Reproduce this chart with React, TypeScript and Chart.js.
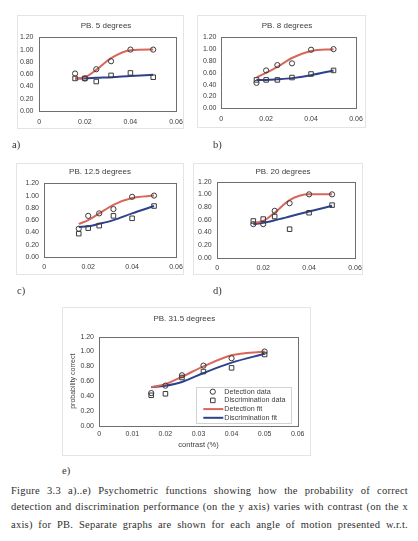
import { useEffect, useRef } from "react";
import { Chart, registerables } from "chart.js";
import type { ChartConfiguration, Plugin } from "chart.js";

Chart.register(...registerables);

// Contrast levels shown at every angle
const contrast = [0.0157, 0.02, 0.025, 0.0315, 0.04, 0.05];

// PB, 5 degrees
const det5 = [0.61, 0.53, 0.68, 0.81, 1.0, 1.0];
const dis5 = [0.53, 0.53, 0.48, 0.58, 0.62, 0.55];
const detFit5 = [0.53, 0.55, 0.67, 0.86, 0.99, 1.0];
const disFit5 = [0.53, 0.53, 0.54, 0.55, 0.57, 0.59];

// PB, 8 degrees
const det8 = [0.43, 0.64, 0.73, 0.76, 0.99, 1.0];
const dis8 = [0.48, 0.48, 0.48, 0.52, 0.58, 0.64];
const detFit8 = [0.52, 0.6, 0.7, 0.85, 0.97, 1.0];
const disFit8 = [0.48, 0.48, 0.49, 0.51, 0.56, 0.64];

// PB, 12.5 degrees
const det125 = [0.46, 0.67, 0.71, 0.78, 0.98, 1.0];
const dis125 = [0.38, 0.47, 0.51, 0.67, 0.63, 0.83];
const detFit125 = [0.54, 0.6, 0.71, 0.85, 0.96, 1.0];
const disFit125 = [0.49, 0.5, 0.54, 0.6, 0.71, 0.83];

// PB, 20 degrees
const det20 = [0.53, 0.53, 0.74, 0.86, 1.0, 1.0];
const dis20 = [0.58, 0.61, 0.65, 0.45, 0.71, 0.83];
const detFit20 = [0.55, 0.58, 0.71, 0.91, 1.0, 1.0];
const disFit20 = [0.53, 0.55, 0.59, 0.65, 0.73, 0.82];

// PB, 31.5 degrees
const det315 = [0.44, 0.54, 0.68, 0.81, 0.91, 1.0];
const dis315 = [0.41, 0.43, 0.65, 0.73, 0.78, 0.96];
const detFit315 = [0.52, 0.56, 0.66, 0.8, 0.95, 1.0];
const disFit315 = [0.52, 0.54, 0.59, 0.71, 0.85, 0.97];

const seriesNames = ["Detection data", "Discrimination data", "Detection fit", "Discrimination fit"];

const captionLines = [
  "Figure 3.3 a)..e) Psychometric functions showing how the probability of correct",
  "detection and discrimination performance (on the y axis) varies with contrast (on the x",
  "axis) for PB. Separate graphs are shown for each angle of motion presented w.r.t.",
];

const RED = "#d8665b";
const BLUE = "#2d418e";
const MARK = "#3a3a3a";
const TEXT = "#3c3c3c";
const SANS = '"Liberation Sans", Arial, sans-serif';
const SERIF = '"Liberation Serif", "Times New Roman", serif';

type Rect = { x: number; y: number; w: number; h: number };
type Edges = { l: number; t: number; r: number; b: number };

interface PanelSpec {
  title: string;
  tag: string;
  tagAt: [number, number];
  frame: Rect;
  plot: Edges;
  titleAt: [number, number];
  xLabelY: number;
  yLabelRight: number;
  xMax: number;
  xStep: number;
  det: number[];
  dis: number[];
  detFit: number[];
  disFit: number[];
  axisTitles?: { x: string; y: string; xTitleY: number; yTitleX: number };
  legend?: boolean;
}

const panels: PanelSpec[] = [
  {
    title: "PB. 5 degrees", tag: "a)", tagAt: [12, 146],
    frame: { x: 17, y: 15, w: 167, h: 114 },
    plot: { l: 39.3, t: 37.3, r: 176, b: 111 },
    titleAt: [106, 26], xLabelY: 122, yLabelRight: 33.5,
    xMax: 0.06, xStep: 0.02,
    det: det5, dis: dis5, detFit: detFit5, disFit: disFit5,
  },
  {
    title: "PB. 8 degrees", tag: "b)", tagAt: [213, 146],
    frame: { x: 197, y: 15, w: 169, h: 113 },
    plot: { l: 221.2, t: 37.3, r: 356, b: 108.3 },
    titleAt: [287, 26], xLabelY: 118.7, yLabelRight: 216.5,
    xMax: 0.06, xStep: 0.02,
    det: det8, dis: dis8, detFit: detFit8, disFit: disFit8,
  },
  {
    title: "PB. 12.5 degrees", tag: "c)", tagAt: [17, 292],
    frame: { x: 16, y: 163, w: 168, h: 112 },
    plot: { l: 44.3, t: 183.3, r: 176, b: 257 },
    titleAt: [100, 171.7], xLabelY: 267.3, yLabelRight: 39,
    xMax: 0.06, xStep: 0.02,
    det: det125, dis: dis125, detFit: detFit125, disFit: disFit125,
  },
  {
    title: "PB. 20 degrees", tag: "d)", tagAt: [213, 292],
    frame: { x: 193, y: 163, w: 170, h: 112 },
    plot: { l: 217.3, t: 181.7, r: 355, b: 257.7 },
    titleAt: [283, 171.7], xLabelY: 268.3, yLabelRight: 211.7,
    xMax: 0.06, xStep: 0.02,
    det: det20, dis: dis20, detFit: detFit20, disFit: disFit20,
  },
  {
    title: "PB. 31.5 degrees", tag: "e)", tagAt: [62, 472],
    frame: { x: 62, y: 307, w: 249, h: 149 },
    plot: { l: 99.3, t: 336.7, r: 297.7, b: 425.7 },
    titleAt: [184.3, 319], xLabelY: 434, yLabelRight: 94,
    xMax: 0.06, xStep: 0.01,
    det: det315, dis: dis315, detFit: detFit315, disFit: disFit315,
    axisTitles: { x: "contrast (%)", y: "probability correct", xTitleY: 445, yTitleX: 73.3 },
    legend: true,
  },
];

// Full rectangle around the plotting area
const plotBorder: Plugin<"scatter"> = {
  id: "plotBorder",
  beforeDatasetsDraw(chart) {
    const { ctx, chartArea: a } = chart;
    ctx.save();
    ctx.strokeStyle = "#6f6f6f";
    ctx.lineWidth = 1;
    const x = Math.round(a.left) + 0.5;
    const y = Math.round(a.top) + 0.5;
    ctx.strokeRect(x, y, Math.round(a.right) - Math.round(a.left), Math.round(a.bottom) - Math.round(a.top));
    ctx.restore();
  },
};

// Panel heading, centred on a given point of the canvas
const panelTitle: Plugin<"scatter"> = {
  id: "panelTitle",
  afterDraw(chart, _args, opts: any) {
    if (!opts || !opts.text) return;
    const { ctx } = chart;
    ctx.save();
    ctx.font = `${opts.size}px ${SANS}`;
    ctx.fillStyle = TEXT;
    ctx.textAlign = "center";
    ctx.textBaseline = "middle";
    ctx.fillText(opts.text, opts.x, opts.y);
    ctx.restore();
  },
};

// Boxed legend sitting in the lower right corner of the plot
const insetLegend: Plugin<"scatter"> = {
  id: "insetLegend",
  afterDraw(chart, _args, opts: any) {
    if (!opts || !opts.display) return;
    const { ctx, chartArea: a } = chart;
    const w = 94.7;
    const h = 36;
    const x0 = Math.round(a.right - 7 - w);
    const y0 = Math.round(a.bottom - 2.4 - h);
    ctx.save();
    ctx.fillStyle = "#ffffff";
    ctx.fillRect(x0, y0, w, h);
    ctx.strokeStyle = "#d2d2d2";
    ctx.lineWidth = 1;
    ctx.strokeRect(x0 + 0.5, y0 + 0.5, Math.round(w), Math.round(h));
    ctx.font = `7.2px ${SANS}`;
    ctx.textBaseline = "middle";
    ctx.textAlign = "left";
    chart.data.datasets.forEach((ds: any, i: number) => {
      const y = y0 + 4.7 + i * 8.7;
      if (ds.showLine) {
        ctx.strokeStyle = ds.borderColor;
        ctx.lineWidth = 2;
        ctx.beginPath();
        ctx.moveTo(x0 + 7.3, y);
        ctx.lineTo(x0 + 27.3, y);
        ctx.stroke();
      } else {
        ctx.strokeStyle = MARK;
        ctx.lineWidth = 1;
        ctx.beginPath();
        if (ds.pointStyle === "rect") {
          const s = ds.pointRadius * Math.SQRT1_2;
          ctx.rect(x0 + 16.8 - s, y - s, 2 * s, 2 * s);
        } else {
          ctx.arc(x0 + 16.8, y, ds.pointRadius, 0, Math.PI * 2);
        }
        ctx.stroke();
      }
      ctx.fillStyle = TEXT;
      ctx.fillText(ds.label, x0 + 28.3, y);
    });
    ctx.restore();
  },
};

function points(ys: number[]) {
  return contrast.map((x, i) => ({ x, y: ys[i] }));
}

function buildConfig(p: PanelSpec): ChartConfiguration<"scatter"> {
  const W = p.frame.w;
  const H = p.frame.h;
  const L = p.plot.l - p.frame.x;
  const R = p.plot.r - p.frame.x;
  const T = p.plot.t - p.frame.y;
  const B = p.plot.b - p.frame.y;
  const padRight = W - R;
  const xAxisH = H - B;
  const tickSize = 7;
  const tickLH = tickSize * 1.2;
  const xTickPad = p.xLabelY - p.plot.b - tickLH / 2;
  const yTickPad = p.plot.l - p.yLabelRight;
  const at = p.axisTitles;

  return {
    type: "scatter",
    data: {
      datasets: [
        {
          label: seriesNames[0],
          data: points(p.det),
          showLine: false,
          pointStyle: "circle",
          pointRadius: 2.6,
          pointBorderWidth: 1,
          borderColor: MARK,
          backgroundColor: "rgba(0,0,0,0)",
        },
        {
          label: seriesNames[1],
          data: points(p.dis),
          showLine: false,
          pointStyle: "rect",
          pointRadius: 3.2,
          pointBorderWidth: 1,
          borderColor: MARK,
          backgroundColor: "rgba(0,0,0,0)",
        },
        {
          label: seriesNames[2],
          data: points(p.detFit),
          showLine: true,
          borderColor: RED,
          backgroundColor: RED,
          borderWidth: 2,
          pointRadius: 0,
          tension: 0.4,
          cubicInterpolationMode: "monotone",
        },
        {
          label: seriesNames[3],
          data: points(p.disFit),
          showLine: true,
          borderColor: BLUE,
          backgroundColor: BLUE,
          borderWidth: 2,
          pointRadius: 0,
          tension: 0.4,
          cubicInterpolationMode: "monotone",
        },
      ],
    },
    options: {
      responsive: false,
      animation: false,
      events: [],
      layout: {
        autoPadding: false,
        padding: { left: 0, right: padRight, top: T, bottom: 0 },
      },
      plugins: {
        legend: { display: false },
        tooltip: { enabled: false },
        title: { display: false },
        panelTitle: {
          text: p.title,
          size: 8,
          x: p.titleAt[0] - p.frame.x,
          y: p.titleAt[1] - p.frame.y,
        },
        insetLegend: { display: !!p.legend },
      } as any,
      scales: {
        x: {
          type: "linear",
          min: 0,
          max: p.xMax,
          grid: { display: false, drawTicks: false },
          border: { display: false },
          ticks: {
            stepSize: p.xStep,
            autoSkip: false,
            maxRotation: 0,
            padding: xTickPad,
            color: TEXT,
            font: { family: SANS, size: tickSize },
            callback: (v: any) => (Number(v) === 0 ? "0" : Number(v).toFixed(2)),
          },
          title: at
            ? {
                display: true,
                text: at.x,
                color: TEXT,
                font: { family: SANS, size: 7.5, lineHeight: 1 },
                padding: { top: 0, bottom: H - (at.xTitleY - p.frame.y) - 3.75 },
              }
            : { display: false },
          afterFit: (s: any) => {
            s.height = xAxisH;
            s.paddingLeft = 0;
            s.paddingRight = 0;
          },
        },
        y: {
          type: "linear",
          min: 0,
          max: 1.2,
          grid: { display: false, drawTicks: false },
          border: { display: false },
          ticks: {
            stepSize: 0.2,
            autoSkip: false,
            padding: yTickPad,
            color: TEXT,
            font: { family: SANS, size: tickSize },
            callback: (v: any) => Number(v).toFixed(2),
          },
          title: at
            ? {
                display: true,
                text: at.y,
                color: TEXT,
                font: { family: SANS, size: 7, lineHeight: 1 },
                padding: { top: at.yTitleX - p.frame.x - 3.5, bottom: 0 },
              }
            : { display: false },
          afterFit: (s: any) => {
            s.width = L;
            s.paddingTop = 0;
            s.paddingBottom = 0;
          },
        },
      },
    },
    plugins: [plotBorder, panelTitle, insetLegend],
  };
}

function Panel({ spec }: { spec: PanelSpec }) {
  const ref = useRef<HTMLCanvasElement>(null);
  useEffect(() => {
    if (!ref.current) return;
    const chart = new Chart(ref.current, buildConfig(spec));
    return () => chart.destroy();
  }, [spec]);
  const f = spec.frame;
  return (
    <>
      <div style={{ position: "absolute", left: f.x, top: f.y, width: f.w, height: f.h }}>
        <canvas
          ref={ref}
          width={f.w}
          height={f.h}
          style={{ display: "block", width: f.w, height: f.h }}
        />
        <div
          style={{
            position: "absolute",
            inset: 0,
            border: "1px solid #e4e4e4",
            pointerEvents: "none",
          }}
        />
      </div>
      <div
        style={{
          position: "absolute",
          left: spec.tagAt[0],
          top: spec.tagAt[1] - 7,
          fontFamily: SERIF,
          fontSize: 10.5,
          lineHeight: "12px",
          color: "#333",
          whiteSpace: "nowrap",
        }}
      >
        {spec.tag}
      </div>
    </>
  );
}

export default function App() {
  const captionTops = [484.6, 501.2, 518.6];
  return (
    <div
      style={{
        position: "absolute",
        left: 0,
        top: 0,
        width: 418,
        height: 541,
        background: "#ffffff",
        overflow: "hidden",
      }}
    >
      {panels.map((p) => (
        <Panel key={p.tag} spec={p} />
      ))}
      {captionLines.map((line, i) => (
        <div
          key={i}
          style={{
            position: "absolute",
            left: 11,
            top: captionTops[i],
            width: 397,
            fontFamily: SERIF,
            fontSize: 10.5,
            letterSpacing: "0.25px",
            lineHeight: "12px",
            color: "#2e2e2e",
            textAlign: "justify",
            textAlignLast: "justify",
            whiteSpace: "nowrap",
          }}
        >
          {line}
        </div>
      ))}
    </div>
  );
}
